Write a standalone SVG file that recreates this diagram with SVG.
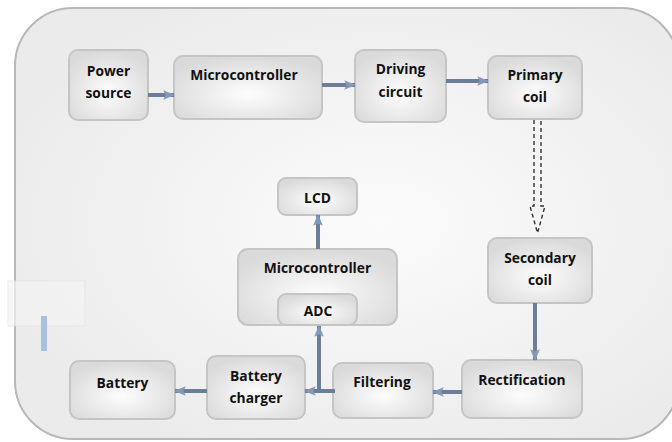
<svg xmlns="http://www.w3.org/2000/svg" width="672" height="442" viewBox="0 0 672 442">
<defs>
<radialGradient id="bg" cx="0.55" cy="0.5" r="0.6">
<stop offset="0" stop-color="#fbfbfb"/>
<stop offset="1" stop-color="#ebebeb"/>
</radialGradient>
<radialGradient id="box" cx="0.5" cy="0.6" r="0.6">
<stop offset="0" stop-color="#fdfdfd"/>
<stop offset="1" stop-color="#dadada"/>
</radialGradient>
<marker id="ah" viewBox="0 0 10 10" refX="9" refY="5" markerWidth="3" markerHeight="3" orient="auto" markerUnits="strokeWidth">
<path d="M0,1 L10,5 L0,9 L2,5 Z" fill="#8499b8"/>
</marker>
<style>
.node rect{fill:url(#box);stroke:#c5c5c5;stroke-width:2}
text{font-family:"Open Sans","Liberation Sans",sans-serif;font-weight:bold;font-size:13.8px;fill:#111111;text-anchor:middle}
.arr{stroke:#6b7e99;stroke-width:4;fill:none;marker-end:url(#ah)}
.dash{stroke:#333;stroke-width:1.4;fill:none;stroke-dasharray:4 3}
</style>
</defs>
<rect x="0" y="0" width="672" height="442" fill="#ffffff"/>
<rect x="15" y="8" width="664" height="431" rx="58" fill="url(#bg)" stroke="#b8b8b8" stroke-width="2"/>
<g id="artifact">
<rect x="8" y="281" width="77" height="45" fill="#f4f4f4" stroke="#e4e4e4" stroke-width="1" opacity="0.7"/>
<rect x="41" y="316" width="6" height="35" fill="#a6c0df"/>
</g>
<g id="power-source" class="node"><rect x="69" y="50" width="79" height="70" rx="9"/><text x="108.5" y="76">Power</text><text x="108.5" y="98">source</text></g>
<g id="microcontroller-top" class="node"><rect x="174" y="56" width="148" height="63" rx="9"/><text x="244" y="80">Microcontroller</text></g>
<g id="driving-circuit" class="node"><rect x="355" y="50" width="91" height="72" rx="9"/><text x="400.5" y="74">Driving</text><text x="400.5" y="97">circuit</text></g>
<g id="primary-coil" class="node"><rect x="488" y="56" width="94" height="63" rx="9"/><text x="535" y="80">Primary</text><text x="535" y="102">coil</text></g>
<g id="secondary-coil" class="node"><rect x="488" y="238" width="104" height="65" rx="9"/><text x="540" y="263">Secondary</text><text x="540" y="285">coil</text></g>
<g id="rectification" class="node"><rect x="462" y="360" width="120" height="58" rx="9"/><text x="522" y="385">Rectification</text></g>
<g id="filtering" class="node"><rect x="333" y="363" width="100" height="55" rx="9"/><text x="382" y="387">Filtering</text></g>
<g id="battery-charger" class="node"><rect x="207" y="356" width="98" height="63" rx="9"/><text x="256" y="381">Battery</text><text x="256" y="403">charger</text></g>
<g id="battery" class="node"><rect x="70" y="361" width="105" height="58" rx="9"/><text x="122.5" y="388">Battery</text></g>
<g id="microcontroller-bottom" class="node"><rect x="238" y="249" width="159" height="76" rx="10"/><text x="317.5" y="273">Microcontroller</text></g>
<g id="adc" class="node"><rect x="278" y="294" width="79" height="31" rx="8"/><text x="318" y="316">ADC</text></g>
<g id="lcd" class="node"><rect x="278" y="178" width="79" height="37" rx="8"/><text x="317.5" y="203">LCD</text></g>
<g id="connectors">
<line class="arr" x1="148" y1="95" x2="174" y2="95"/>
<line class="arr" x1="322" y1="85" x2="355" y2="85"/>
<line class="arr" x1="446" y1="81" x2="488" y2="81"/>
<line class="arr" x1="535" y1="303" x2="535" y2="360"/>
<line class="arr" x1="462" y1="392" x2="433" y2="392"/>
<line class="arr" x1="335" y1="391" x2="305" y2="391"/>
<line class="arr" x1="319" y1="393" x2="319" y2="326"/>
<line class="arr" x1="207" y1="391" x2="175" y2="391"/>
<line class="arr" x1="318" y1="249" x2="318" y2="215"/>
<path class="dash" d="M534,120 L534,206 L530,206 L537.5,233 L545,206 L541,206 L541,120"/>
</g>
</svg>
